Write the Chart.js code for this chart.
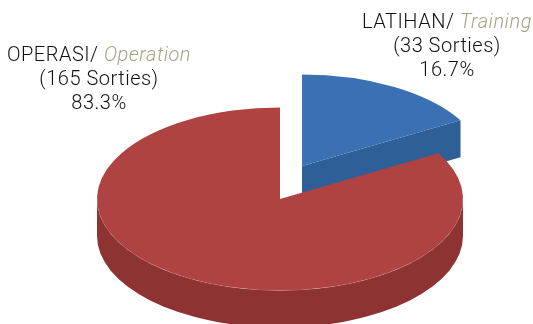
<!DOCTYPE html>
<html>
<head>
<meta charset="utf-8">
<style>
    html, body { margin: 0; background: #fff; }
    canvas { display: block; }
</style>
<script src="https://cdn.jsdelivr.net/npm/chart.js@4/dist/chart.umd.min.js"></script>
</head>
<body>
<canvas id="sortiesChart" width="533" height="324"></canvas>
<script>
const categories = ['LATIHAN/', 'OPERASI/'];
const categoriesEn = ['Training', 'Operation'];
const sorties = [33, 165];

const topColors = ['#3b70b3', '#af4341'];
const sideColors = ['#2f5f97', '#8d3433'];

// pie look: flattening, thickness, and how far each slice is pulled apart
const TILT = 0.5;
const DEPTH = 37;
const sliceShift = [[11, -16.5], [-11, 16.5]];
// centre x and first baseline of each caption
const captionPos = [[447, 28], [99, 61]];
const LINE_HEIGHT = 24;
const FONT = '"Roboto"';

function drawSide(ctx, arc, color) {
    const a = arc.startAngle, b = arc.endAngle, r = arc.outerRadius;
    const ry = r * TILT;
    ctx.fillStyle = color;

    // cut face on the clockwise side, seen only when it points to the viewer
    if (Math.cos(b) > 0.001) {
        const ex = r * Math.cos(b), ey = ry * Math.sin(b);
        ctx.beginPath();
        ctx.moveTo(0, 0);
        ctx.lineTo(ex, ey);
        ctx.lineTo(ex, ey + DEPTH);
        ctx.lineTo(0, DEPTH);
        ctx.closePath();
        ctx.fill();
    }

    // outer wall, front half only
    const from = Math.max(a, 0), to = Math.min(b, Math.PI);
    if (to > from) {
        ctx.beginPath();
        ctx.ellipse(0, 0, r, ry, 0, from, to);
        ctx.ellipse(0, DEPTH, r, ry, 0, to, from, true);
        ctx.closePath();
        ctx.fill();
    }
}

const pie3d = {
    id: 'pie3d',
    beforeDatasetsDraw(chart) {
        const ctx = chart.ctx;
        chart.getDatasetMeta(0).data.forEach((arc, i) => {
            const cx = arc.x + sliceShift[i][0], cy = arc.y + sliceShift[i][1];

            ctx.save();
            ctx.translate(cx, cy);
            drawSide(ctx, arc, sideColors[i]);
            ctx.scale(1, TILT);
            ctx.translate(-arc.x, -arc.y);
            arc.draw(ctx);
            ctx.restore();

            // thin light rim along the front edge
            const from = Math.max(arc.startAngle, 0), to = Math.min(arc.endAngle, Math.PI);
            if (to > from) {
                ctx.beginPath();
                ctx.ellipse(cx, cy, arc.outerRadius, arc.outerRadius * TILT, 0, from, to);
                ctx.strokeStyle = 'rgba(255,255,255,0.15)';
                ctx.lineWidth = 0.7;
                ctx.stroke();
            }
        });
        return false;
    },
    afterDraw(chart) {
        const ctx = chart.ctx;
        const total = sorties.reduce((s, v) => s + v, 0);
        ctx.save();
        ctx.textBaseline = 'alphabetic';
        ctx.letterSpacing = '0.5px';
        categories.forEach((name, i) => {
            const [x, y] = captionPos[i];
            const mainFont = '300 20px ' + FONT;
            const enFont = 'italic 300 20px ' + FONT;

            // first line mixes two styles, so centre it by hand
            ctx.textAlign = 'left';
            ctx.font = mainFont;
            const nameW = ctx.measureText(name + ' ').width;
            ctx.font = enFont;
            const enW = ctx.measureText(categoriesEn[i]).width;
            const left = x - (nameW + enW) / 2;
            ctx.font = mainFont;
            ctx.fillStyle = '#111111';
            ctx.fillText(name, left, y);
            ctx.font = enFont;
            ctx.fillStyle = '#a89f85';
            ctx.fillText(categoriesEn[i], left + nameW, y);

            ctx.textAlign = 'center';
            ctx.font = mainFont;
            ctx.fillStyle = '#111111';
            ctx.fillText('(' + sorties[i] + ' Sorties)', x, y + LINE_HEIGHT);
            ctx.fillText((sorties[i] / total * 100).toFixed(1) + '%', x, y + LINE_HEIGHT * 2);
        });
        ctx.restore();
    }
};

new Chart(document.getElementById('sortiesChart'), {
    type: 'pie',
    data: {
        labels: categoriesEn,
        datasets: [{
            data: sorties,
            backgroundColor: topColors,
            borderWidth: 0,
        }],
    },
    options: {
        responsive: false,
        animation: false,
        radius: 183,
        layout: { padding: { left: 49, top: 41 } },
        plugins: {
            legend: { display: false },
            tooltip: { enabled: false },
        },
    },
    plugins: [pie3d],
});
</script>
</body>
</html>
